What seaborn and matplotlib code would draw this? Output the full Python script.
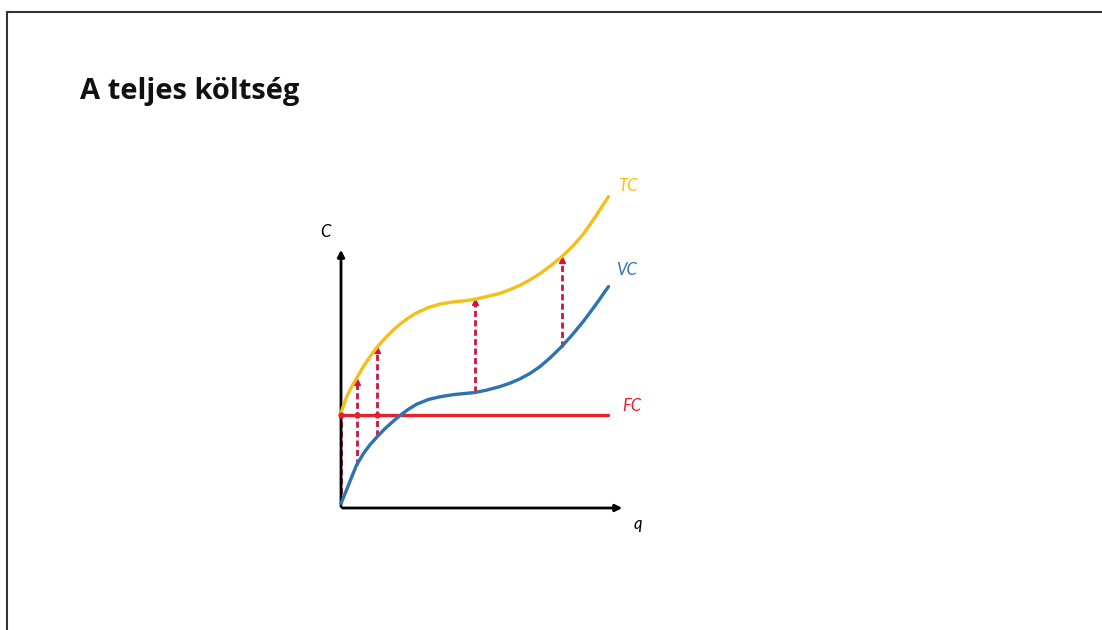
import matplotlib.pyplot as plt
import seaborn as sns
import pandas as pd
from matplotlib.lines import Line2D

sns.set_theme(style="white")
plt.rcParams["font.family"] = ["Lato", "DejaVu Sans"]

# ----------------------------
# Data
# ----------------------------
q = [0.0, 0.21, 0.40, 0.58, 0.83, 1.08, 1.36, 1.64, 1.95, 2.20, 2.51, 2.82, 3.26, 3.69,
     4.19, 4.69, 5.0, 5.44, 5.93, 6.31, 6.68, 7.05, 7.43, 7.80, 8.23, 8.61, 9.04, 9.48, 9.98]
tc = [3.55, 4.15, 4.53, 4.84, 5.27, 5.65, 6.02, 6.33, 6.64, 6.86, 7.09, 7.28, 7.48, 7.61,
      7.69, 7.74, 7.79, 7.89, 8.01, 8.15, 8.31, 8.51, 8.75, 9.02, 9.37, 9.73, 10.22, 10.85, 11.62]
vc = [0.17, 0.68, 1.16, 1.60, 2.02, 2.36, 2.67, 2.96, 3.24, 3.45, 3.68, 3.87, 4.05, 4.15,
      4.23, 4.28, 4.31, 4.40, 4.53, 4.66, 4.82, 5.02, 5.28, 5.60, 6.02, 6.44, 6.96, 7.55, 8.26]
fc = 3.47
fc_q = [0.0, 9.98]
arrow_idx = [3, 6, 16, 24]   # where the dashed VC -> TC arrows stand

title = "A teljes költség"

TC_COL = "#f5bf18"
VC_COL = "#2f72b0"
FC_COL = "#e8202c"
DASH_COL = "#cc1540"

df = pd.DataFrame({"q": q, "TC": tc, "VC": vc})

fig = plt.figure(figsize=(11.02, 6.3), dpi=100)
ax = fig.add_axes([314.2 / 1102, 95.2 / 630, 348.4 / 1102, 361.8 / 630])
ax.set_xlim(-1, 12)
ax.set_ylim(-1, 12.5)
ax.axis("off")

# axes with arrows
ax.annotate("", xy=(0, 9.74), xytext=(0, -0.05),
            arrowprops=dict(arrowstyle="-|>", color="black", lw=2, mutation_scale=10))
ax.annotate("", xy=(10.6, 0), xytext=(-0.05, 0),
            arrowprops=dict(arrowstyle="-|>", color="black", lw=2, mutation_scale=10))

# dashed arrows
ax.vlines(0, vc[0], fc, colors=DASH_COL, linestyles=(0, (2.2, 1.2)), lw=2, zorder=2)
for i in arrow_idx:
    ax.vlines(q[i], vc[i], tc[i] - 0.12, colors=DASH_COL, linestyles=(0, (2.2, 1.2)), lw=2, zorder=2)
    ax.plot(q[i], tc[i] - 0.12, marker="^", ms=4.5, color=DASH_COL, zorder=3)

# curves
line_kw = dict(lw=2.4, solid_joinstyle="round", solid_capstyle="round")
sns.lineplot(data=df, x="q", y="TC", ax=ax, color=TC_COL, zorder=4, **line_kw)
sns.lineplot(data=df, x="q", y="VC", ax=ax, color=VC_COL, zorder=4, **line_kw)
sns.lineplot(x=fc_q, y=[fc, fc], ax=ax, color=FC_COL, lw=2.4, zorder=3)
ax.plot([0, q[3], q[6]], [fc] * 3, "o", ms=3.5, color=FC_COL, zorder=5)

lab = dict(style="italic", fontsize=12, ha="center", va="center")
ax.text(10.7, 12.0, "TC", color=TC_COL, **lab)
ax.text(10.67, 8.88, "VC", color=VC_COL, **lab)
ax.text(10.86, 3.8, "FC", color=FC_COL, **lab)
ax.text(-0.6, 10.3, "C", color="black", **lab)
ax.text(11.08, -0.6, "q", color="black", **lab)

# title and slide frame
fig.text(80 / 1102, 1 - 92 / 630, title, fontsize=21, fontweight="bold",
         family=["Open Sans", "DejaVu Sans"], color="#111111", ha="left", va="center")
fig.add_artist(Line2D([7 / 1102, 1], [1 - 12 / 630, 1 - 12 / 630], color="#333333", lw=1.5))
fig.add_artist(Line2D([7 / 1102, 7 / 1102], [0, 1 - 12 / 630], color="#333333", lw=1.5))

fig.savefig("out.png", dpi=100)
